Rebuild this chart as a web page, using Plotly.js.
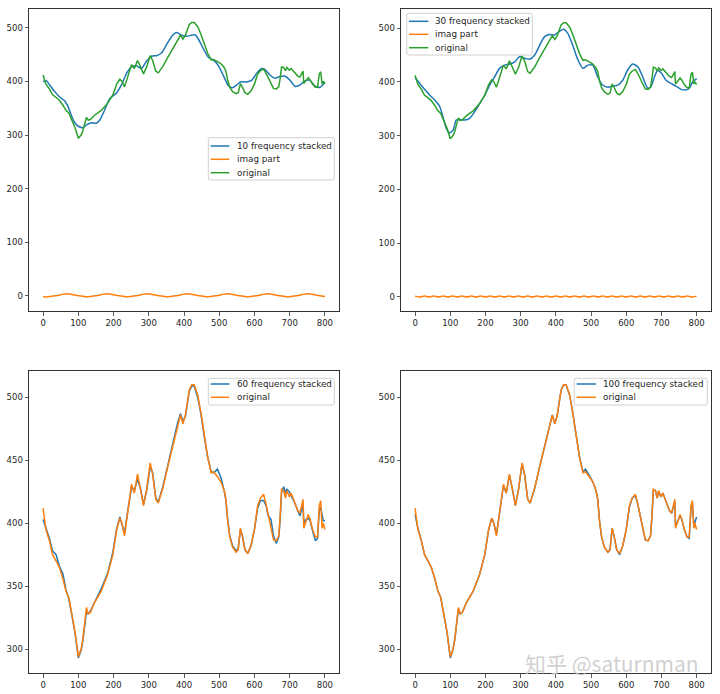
<!DOCTYPE html>
<html>
<head>
<meta charset="utf-8">
<script src="https://cdn.plot.ly/plotly-3.0.1.min.js"></script>
<style>html,body{margin:0;padding:0;background:#fff;}#chart{width:720px;height:694px;}</style>
</head>
<body>
<div id="chart"></div>
<script>
// ---- original signal (shared by all panels) ----
const xOrig = [0,8,18,27,37,46,56,65,73,81,91,100,108,113,117,123,128,134,146,165,183,198,209,218,224,231,240,251,259,268,276,285,294,304,311,320,327,340,354,368,382,390,397,404,415,422,429,439,448,458,467,477,484,495,505,514,519,524,530,538,548,554,560,566,573,581,590,600,609,617,626,633,639,647,654,662,669,673,677,683,688,692,699,704,713,723,729,735,738,740,746,753,758,765,773,779,784,788,792,795,800];
const yOrig = [412,395,386,375,370,365,356,346,341,329,313,294,300,308,318,333,328,329,337,346,359,375,395,404,400,390,408,431,424,439,428,414,427,448,439,419,416,428,445,461,477,486,479,486,506,510,510,502,488,468,453,440,441,437,433,426,419,402,389,381,377,379,396,389,379,376,382,395,414,420,423,415,407,399,387,386,390,406,427,426,420,426,421,424,418,410,408,414,419,396,402,407,403,395,389,389,414,418,396,400,395];

// ---- 60 / 100 frequency reconstructions (same x grid as original) ----
const y60 = [403,396,388,378,375,366,360,347,340,328,312,293,299,307,318,330,328,330,337,348,360,377,396,405,399,392,409,429,426,435,428,415,426,445,440,420,417,429,446,463,480,487,481,485,505,509,509,500,487,468,453,441,440,443,436,426,418,403,390,382,378,380,395,390,379,376,382,395,412,418,418,414,406,403,390,384,389,403,425,429,424,427,425,422,417,410,406,412,415,400,403,404,402,394,386,388,410,413,404,402,402];
const y100 = [407,396,386,375,370,365,356,346,341,329,313,293,300,308,318,332,328,329,337,346,359,375,395,404,400,391,408,430,424,438,428,414,427,447,439,419,416,428,445,461,477,486,479,486,506,510,510,502,488,468,453,441,443,438,433,426,419,402,389,381,377,379,396,389,379,375,382,395,413,420,422,415,407,399,387,386,390,405,426,426,420,425,421,424,418,410,408,413,417,398,402,406,403,395,389,388,412,416,398,401,405];

// ---- 10 frequency reconstruction ----
const x10 = [0,10,19,33,47,61,71,80,90,101,114,123,137,151,161,175,189,208,222,237,251,265,279,293,308,322,336,350,364,379,393,407,421,431,440,454,469,483,497,511,525,537,549,560,577,592,606,620,630,644,658,672,686,701,715,729,743,757,772,786,800];
const y10 = [400,401,393,381,371,364,353,337,323,316,314,319,323,322,328,347,368,378,393,415,427,429,424,437,447,448,453,468,483,491,486,484,486,487,480,462,445,440,430,412,393,388,393,399,399,402,415,424,422,412,406,409,410,402,391,393,401,402,391,389,399];

// ---- 30 frequency reconstruction ----
const x30 = [0,13,27,42,56,70,79,89,98,108,117,127,141,155,169,184,198,212,226,240,254,269,283,297,311,325,340,354,368,382,396,410,422,434,448,462,477,491,505,519,533,547,562,576,590,604,618,633,647,661,670,680,689,699,713,727,741,756,770,779,789,800];
const y30 = [408,397,386,375,366,354,335,313,305,310,329,330,329,332,344,360,375,394,409,425,431,433,437,447,444,442,450,468,484,488,487,494,498,490,468,442,425,431,431,409,394,390,392,394,403,422,433,428,409,388,391,409,421,417,403,397,392,386,385,388,400,406];

// ---- imaginary parts ----
const xImag10 = [0,11,40,68,97,125,154,182,211,239,268,296,325,353,382,410,439,467,496,524,553,581,610,638,667,695,724,752,781,800];
const yImag10 = [-0.8,-1.8,1,4,1,-1.8,1,4,1,-1.8,1,4,1,-1.8,1,4,1,-1.8,1,4,1,-1.8,1,4,1,-1.8,1,4,1,-0.8];
const xImag30 = [0,13,27,40,53,67,80,93,107,120,133,147,160,173,187,200,213,227,240,253,267,280,293,307,320,333,347,360,373,387,400,413,427,440,453,467,480,493,507,520,533,547,560,573,587,600,613,627,640,653,667,680,693,707,720,733,747,760,773,787,800];
const yImag30 = [1.2,-0.6,1.2,-0.6,1.2,-0.6,1.2,-0.6,1.2,-0.6,1.2,-0.6,1.2,-0.6,1.2,-0.6,1.2,-0.6,1.2,-0.6,1.2,-0.6,1.2,-0.6,1.2,-0.6,1.2,-0.6,1.2,-0.6,1.2,-0.6,1.2,-0.6,1.2,-0.6,1.2,-0.6,1.2,-0.6,1.2,-0.6,1.2,-0.6,1.2,-0.6,1.2,-0.6,1.2,-0.6,1.2,-0.6,1.2,-0.6,1.2,-0.6,1.2,-0.6,1.2,-0.6,1.2];

// ---- tick labels ----
const xTicks = [0,100,200,300,400,500,600,700,800];
const yTicksTop = [0,100,200,300,400,500];
const yTicksBottom = [300,350,400,450,500];

const BLUE = '#1f77b4', ORANGE = '#ff7f0e', GREEN = '#2ca02c';
const LW = 1.5;
const W = 720, H = 694;
const px = v => v / W, py = v => 1 - v / H;

function tr(x, y, name, color, xa, ya, shape) {
  return {x: x, y: y, name: name, type: 'scatter', mode: 'lines', showlegend: false,
    line: {color: color, width: LW, shape: shape || 'linear', smoothing: 0.6},
    xaxis: xa, yaxis: ya, hoverinfo: 'skip'};
}

const data = [
  tr(x10, y10, '10 frequency stacked', BLUE, 'x', 'y', 'spline'),
  tr(xImag10, yImag10, 'imag part', ORANGE, 'x', 'y', 'spline'),
  tr(xOrig, yOrig, 'original', GREEN, 'x', 'y'),
  tr(x30, y30, '30 frequency stacked', BLUE, 'x2', 'y2', 'spline'),
  tr(xImag30, yImag30, 'imag part', ORANGE, 'x2', 'y2', 'spline'),
  tr(xOrig, yOrig, 'original', GREEN, 'x2', 'y2'),
  tr(xOrig, y60, '60 frequency stacked', BLUE, 'x3', 'y3'),
  tr(xOrig, yOrig, 'original', ORANGE, 'x3', 'y3'),
  tr(xOrig, y100, '100 frequency stacked', BLUE, 'x4', 'y4'),
  tr(xOrig, yOrig, 'original', ORANGE, 'x4', 'y4')
];

const tickFont = {family: 'DejaVu Sans', size: 8.5, color: '#262626'};
function xax(domain, anchor) {
  return {domain: domain, anchor: anchor, range: [-40, 840], tickvals: xTicks, ticktext: xTicks.map(String),
    showgrid: false, zeroline: false, showline: true, mirror: true, linecolor: '#333', linewidth: 1,
    ticks: 'outside', ticklen: 3.5, tickwidth: 0.8, tickcolor: '#333', tickfont: tickFont};
}
function yax(domain, anchor, range, ticks) {
  return {domain: domain, anchor: anchor, range: range, tickvals: ticks, ticktext: ticks.map(String),
    showgrid: false, zeroline: false, showline: true, mirror: true, linecolor: '#333', linewidth: 1,
    ticks: 'outside', ticklen: 3.5, tickwidth: 0.8, tickcolor: '#333', tickfont: tickFont};
}
const dxL = [px(29), px(339)], dxR = [px(401), px(710.7)];
const dyT = [py(311), py(9)], dyB = [py(673), py(371)];

// ---- matplotlib-style legends drawn with shapes + annotations ----
const shapes = [], annotations = [];
function legendBox(x0, y0, x1, y1, traces, rowYs, hx0, hx1, tx) {
  const r = 2;
  const path = 'M' + px(x0 + r) + ',' + py(y0) + ' L' + px(x1 - r) + ',' + py(y0) +
    ' Q' + px(x1) + ',' + py(y0) + ' ' + px(x1) + ',' + py(y0 + r) +
    ' L' + px(x1) + ',' + py(y1 - r) + ' Q' + px(x1) + ',' + py(y1) + ' ' + px(x1 - r) + ',' + py(y1) +
    ' L' + px(x0 + r) + ',' + py(y1) + ' Q' + px(x0) + ',' + py(y1) + ' ' + px(x0) + ',' + py(y1 - r) +
    ' L' + px(x0) + ',' + py(y0 + r) + ' Q' + px(x0) + ',' + py(y0) + ' ' + px(x0 + r) + ',' + py(y0) + ' Z';
  shapes.push({type: 'path', xref: 'paper', yref: 'paper', path: path,
    fillcolor: 'rgba(255,255,255,0.85)', line: {color: '#d0d0d0', width: 1}, layer: 'above'});
  traces.forEach((t, i) => {
    shapes.push({type: 'line', xref: 'paper', yref: 'paper', x0: px(hx0), x1: px(hx1),
      y0: py(rowYs[i]), y1: py(rowYs[i]), line: {color: t.line.color, width: LW}, layer: 'above'});
    annotations.push({text: t.name, xref: 'paper', yref: 'paper', x: px(tx), y: py(rowYs[i]),
      xanchor: 'left', yanchor: 'middle', showarrow: false,
      font: {family: 'DejaVu Sans', size: 8.8, color: '#262626'}});
  });
}
legendBox(208.3, 137.7, 334.3, 180, data.slice(0, 3), [146, 159.3, 172.7], 210.7, 229.3, 234.5);
legendBox(406.7, 13.3, 532.3, 55, data.slice(3, 6), [21.3, 34.3, 47.7], 409, 428.3, 432.5);
legendBox(208.3, 378.3, 334.3, 405, data.slice(6, 8), [384, 397.3], 210.7, 229.3, 234.5);
legendBox(574.3, 378.3, 707.3, 405, data.slice(8, 10), [384, 397.3], 576.7, 596, 601);

annotations.push({text: '知乎 @saturnman', xref: 'paper', yref: 'paper', x: px(612), y: py(663),
  xanchor: 'center', yanchor: 'middle', showarrow: false,
  font: {family: 'Noto Sans CJK SC', size: 21, color: 'rgba(200,200,200,0.85)'}});

const layout = {
  width: W, height: H, paper_bgcolor: '#fff', plot_bgcolor: '#fff',
  margin: {l: 0, r: 0, t: 0, b: 0}, showlegend: false,
  xaxis: xax(dxL, 'y'), yaxis: yax(dyT, 'x', [-28, 535], yTicksTop),
  xaxis2: xax(dxR, 'y2'), yaxis2: yax(dyT, 'x2', [-26.5, 535.5], yTicksTop),
  xaxis3: xax(dxL, 'y3'), yaxis3: yax(dyB, 'x3', [281, 521], yTicksBottom),
  xaxis4: xax(dxR, 'y4'), yaxis4: yax(dyB, 'x4', [281, 521], yTicksBottom),
  shapes: shapes, annotations: annotations
};

Plotly.newPlot('chart', data, layout, {staticPlot: true, displayModeBar: false});
</script>
</body>
</html>
